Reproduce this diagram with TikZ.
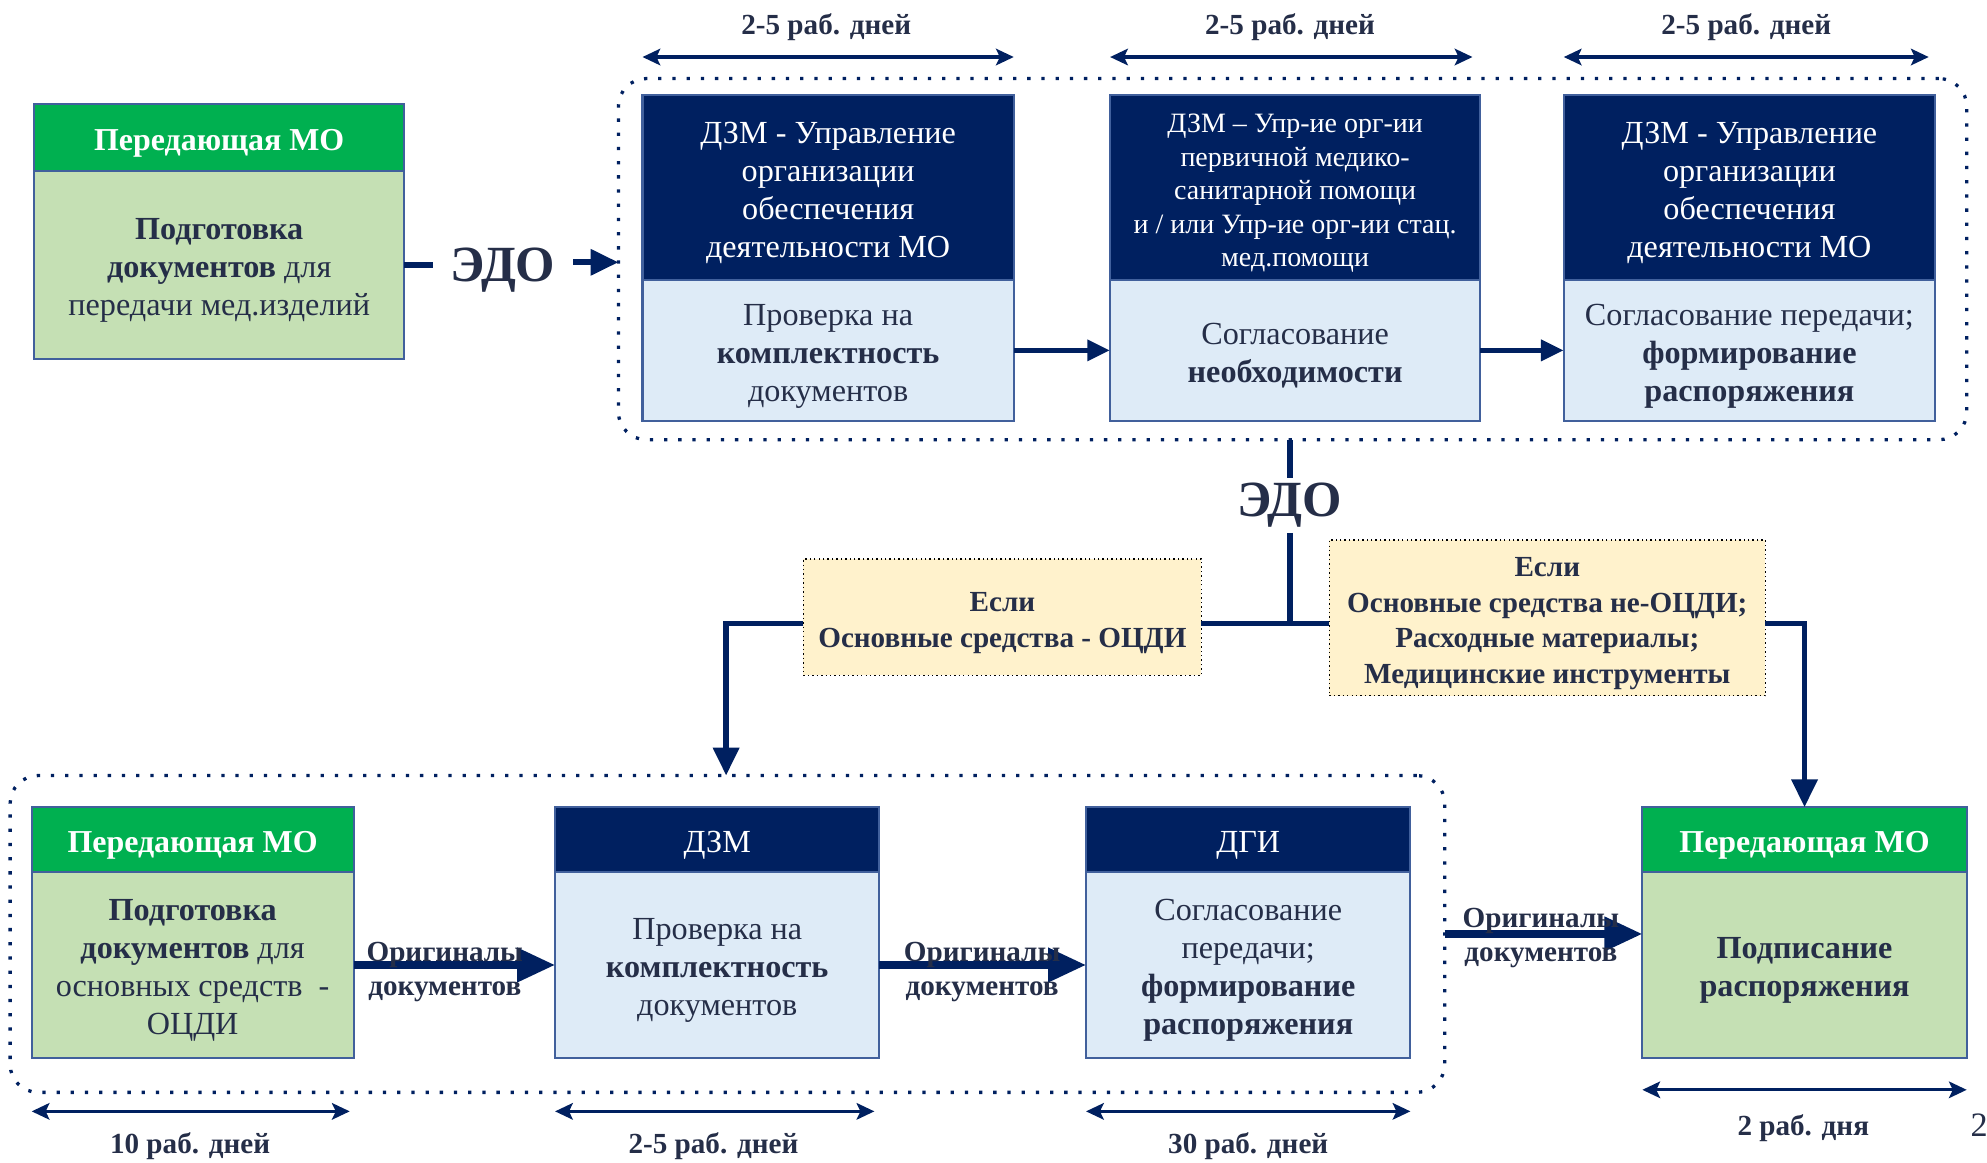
\documentclass[tikz,border=0pt]{standalone}
\usepackage{fontspec}
\setmainfont{Liberation Serif}
\usetikzlibrary{arrows.meta,calc}
\definecolor{navy}{HTML}{002060}
\definecolor{lblue}{HTML}{DEEBF7}
\definecolor{greenh}{HTML}{00B050}
\definecolor{lgreen}{HTML}{C5E0B4}
\definecolor{edge}{HTML}{41609C}
\definecolor{ink}{HTML}{252E48}
\definecolor{yel}{HTML}{FFF2CC}
\begin{document}
\begin{tikzpicture}[x=1pt,y=-1pt,
  every node/.style={inner sep=0pt,outer sep=0pt},
  frame/.style={draw=edge,line width=1.6pt,anchor=north west},
  navyhd/.style={frame,fill=navy},
  greenhd/.style={frame,fill=greenh},
  bluebd/.style={frame,fill=lblue},
  greenbd/.style={frame,fill=lgreen},
  wtxt/.style={align=center,yshift=-4.5pt,text=white,font=\fontsize{25.4}{30}\selectfont},
  gtxt/.style={wtxt,font=\fontsize{25.2}{30}\selectfont\bfseries},
  btxt/.style={align=center,yshift=-4.5pt,text=ink,font=\fontsize{25.4}{30}\selectfont},
  dotbox/.style={draw=navy,line width=2.6pt,dash pattern=on 2.6pt off 8.6pt,rounded corners=22pt,anchor=north west},
  ybox/.style={draw=black,fill=yel,line width=1.1pt,dash pattern=on 1.1pt off 2.4pt,anchor=north west},
  ytxt/.style={align=center,yshift=-4.5pt,text=ink,font=\fontsize{23}{28}\selectfont\bfseries},
  conn/.style={draw=navy,line width=4.5pt},
  conn2/.style={draw=navy,line width=6pt},
  arr/.style={-{Triangle[length=22pt,width=20pt]}},
  arrs/.style={-{Triangle[length=18pt,width=16pt]}},
  arrb/.style={-{Triangle[length=30pt,width=26pt]}},
  tarrow/.style={draw=navy,line width=2.6pt,{Stealth[length=14pt,width=13pt,inset=3pt]}-{Stealth[length=14pt,width=13pt,inset=3pt]}},
  tlab/.style={text=ink,yshift=-3.5pt,font=\fontsize{23}{26}\selectfont\bfseries},
  edo/.style={text=ink,font=\fontsize{40}{44}\selectfont\bfseries},
  olab/.style={text=ink,align=center,yshift=-4pt,font=\fontsize{23}{27}\selectfont\bfseries}
]
\useasboundingbox (0,0) rectangle (1568,917);

% ---------- top-left box
\node[greenhd,minimum width=292pt,minimum height=53pt,
  label={[gtxt]center:Передающая МО}] (tlh) at (27,82) {};
\node[greenbd,minimum width=292pt,minimum height=148pt,
  label={[btxt]center:{\textbf{Подготовка}\\\textbf{документов} для\\передачи мед.изделий}}] (tlb) at (27,135) {};

% ---------- top dotted group
\node[dotbox,minimum width=1064pt,minimum height=285pt] (toprect) at (488,62) {};

\node[navyhd,minimum width=293pt,minimum height=146pt,
  label={[wtxt]center:{ДЗМ - Управление\\организации\\обеспечения\\деятельности МО}}] (h1) at (507,75) {};
\node[bluebd,minimum width=293pt,minimum height=111pt,
  label={[btxt]center:{Проверка на\\\textbf{комплектность}\\документов}}] (b1) at (507,221) {};

\node[navyhd,minimum width=292pt,minimum height=146pt,
  label={[wtxt,font=\fontsize{22.1}{26.5}\selectfont]center:{ДЗМ – Упр-ие орг-ии\\первичной медико-\\санитарной помощи\\и / или Упр-ие орг-ии стац.\\мед.помощи}}] (h2) at (876,75) {};
\node[bluebd,minimum width=292pt,minimum height=111pt,
  label={[btxt]center:{Согласование\\\textbf{необходимости}}}] (b2) at (876,221) {};

\node[navyhd,minimum width=293pt,minimum height=146pt,
  label={[wtxt]center:{ДЗМ - Управление\\организации\\обеспечения\\деятельности МО}}] (h3) at (1234,75) {};
\node[bluebd,minimum width=293pt,minimum height=111pt,
  label={[btxt]center:{Согласование передачи;\\\textbf{формирование}\\\textbf{распоряжения}}}] (b3) at (1234,221) {};

\draw[conn,arrs] (b1.east) -- (b2.west);
\draw[conn,arrs] (b2.east) -- (b3.west);

% top timing
\draw[tarrow] ([yshift=30pt]h1.north west) -- ([yshift=30pt]h1.north east);
\draw[tarrow] ([yshift=30pt]h2.north west) -- ([yshift=30pt,xshift=-6pt]h2.north east);
\draw[tarrow] ([yshift=30pt]h3.north west) -- ([yshift=30pt,xshift=-5pt]h3.north east);
\node[tlab] (t1) at (652,18) {2-5 раб. дней};
\node[tlab] (t2) at (1018,18) {2-5 раб. дней};
\node[tlab] (t3) at (1378,18) {2-5 раб. дней};

% ЭДО 1
\coordinate (e1) at (397,209);
\node[edo,inner xsep=14pt,yshift=-4pt] (edo1) at (e1) {ЭДО};
\draw[conn] (tlb.east |- e1) -- (edo1.west |- e1);
\draw[conn,arr] ([yshift=2pt]edo1.east |- e1) -- ([yshift=2pt]e1 -| toprect.west);

% ЭДО 2 and branches
\node[edo,inner ysep=4pt,yshift=-5pt] (edo2) at (1018,394) {ЭДО};
\draw[conn] (edo2 |- toprect.south) -- (edo2.north);
\coordinate (j) at (1018,492);
\draw[conn] (edo2.south) -- (j);

\node[ybox,minimum width=314pt,minimum height=92pt,
  label={[ytxt]center:{Если\\Основные средства - ОЦДИ}}] (ly) at (634,441) {};
\node[ybox,minimum width=344pt,minimum height=123pt,
  label={[ytxt]center:{Если\\Основные средства не-ОЦДИ;\\Расходные материалы;\\Медицинские инструменты}}] (ry) at (1049,426) {};

\draw[conn] (ly.east |- j) -- (ry.west |- j);
\coordinate (lt) at (573,612);
\draw[conn,arr] (ly.west |- j) -| (lt);

% ---------- bottom dotted group
\node[dotbox,minimum width=1132pt,minimum height=250pt] (botrect) at (8,612) {};

\node[greenhd,minimum width=254pt,minimum height=51pt,
  label={[gtxt]center:Передающая МО}] (ah) at (25,637) {};
\node[greenbd,minimum width=254pt,minimum height=147pt,
  label={[btxt]center:{\textbf{Подготовка}\\\textbf{документов} для\\основных средств~~-\\ОЦДИ}}] (ab) at (25,688) {};

\node[navyhd,minimum width=256pt,minimum height=51pt,
  label={[wtxt]center:ДЗМ}] (bh) at (438,637) {};
\node[bluebd,minimum width=256pt,minimum height=147pt,
  label={[btxt]center:{Проверка на\\\textbf{комплектность}\\документов}}] (bb) at (438,688) {};

\node[navyhd,minimum width=256pt,minimum height=51pt,
  label={[wtxt]center:ДГИ}] (ch) at (857,637) {};
\node[bluebd,minimum width=256pt,minimum height=147pt,
  label={[btxt]center:{Согласование\\передачи;\\\textbf{формирование}\\\textbf{распоряжения}}}] (cb) at (857,688) {};

\node[greenhd,minimum width=256pt,minimum height=51pt,
  label={[gtxt]center:Передающая МО}] (dh) at (1296,637) {};
\node[greenbd,minimum width=256pt,minimum height=147pt,
  label={[btxt]center:{\textbf{Подписание}\\\textbf{распоряжения}}}] (db) at (1296,688) {};

\draw[conn,arr] (ry.east |- j) -| (dh.north);

\draw[conn2,arrb] (ab.east) -- (bb.west);
\draw[conn2,arrb] (bb.east) -- (cb.west);
\draw[conn2,arrb] (botrect.east) -- (botrect.east -| db.west);

\node[olab] (o1) at (351,763) {Оригиналы\\документов};
\node[olab] (o2) at (775,763) {Оригиналы\\документов};
\node[olab] (o3) at (1216,736) {Оригиналы\\документов};

% bottom timing
\draw[tarrow] ([yshift=-42pt]ab.south west) -- ([yshift=-42pt,xshift=-3pt]ab.south east);
\draw[tarrow] ([yshift=-42pt]bb.south west) -- ([yshift=-42pt,xshift=-4pt]bb.south east);
\draw[tarrow] ([yshift=-42pt]cb.south west) -- ([yshift=-42pt]cb.south east);
\draw[tarrow] ([yshift=-25pt]db.south west) -- ([yshift=-25pt]db.south east);
\node[tlab] (t4) at (150,901) {10 раб. дней};
\node[tlab] (t5) at (563,901) {2-5 раб. дней};
\node[tlab] (t6) at (985,901) {30 раб. дней};
\node[tlab] (t7) at (1423,887) {2 раб. дня};

\node[text=ink,anchor=west,font=\fontsize{27}{30}\selectfont] (pg) at (1555,888) {2};
\end{tikzpicture}
\end{document}
